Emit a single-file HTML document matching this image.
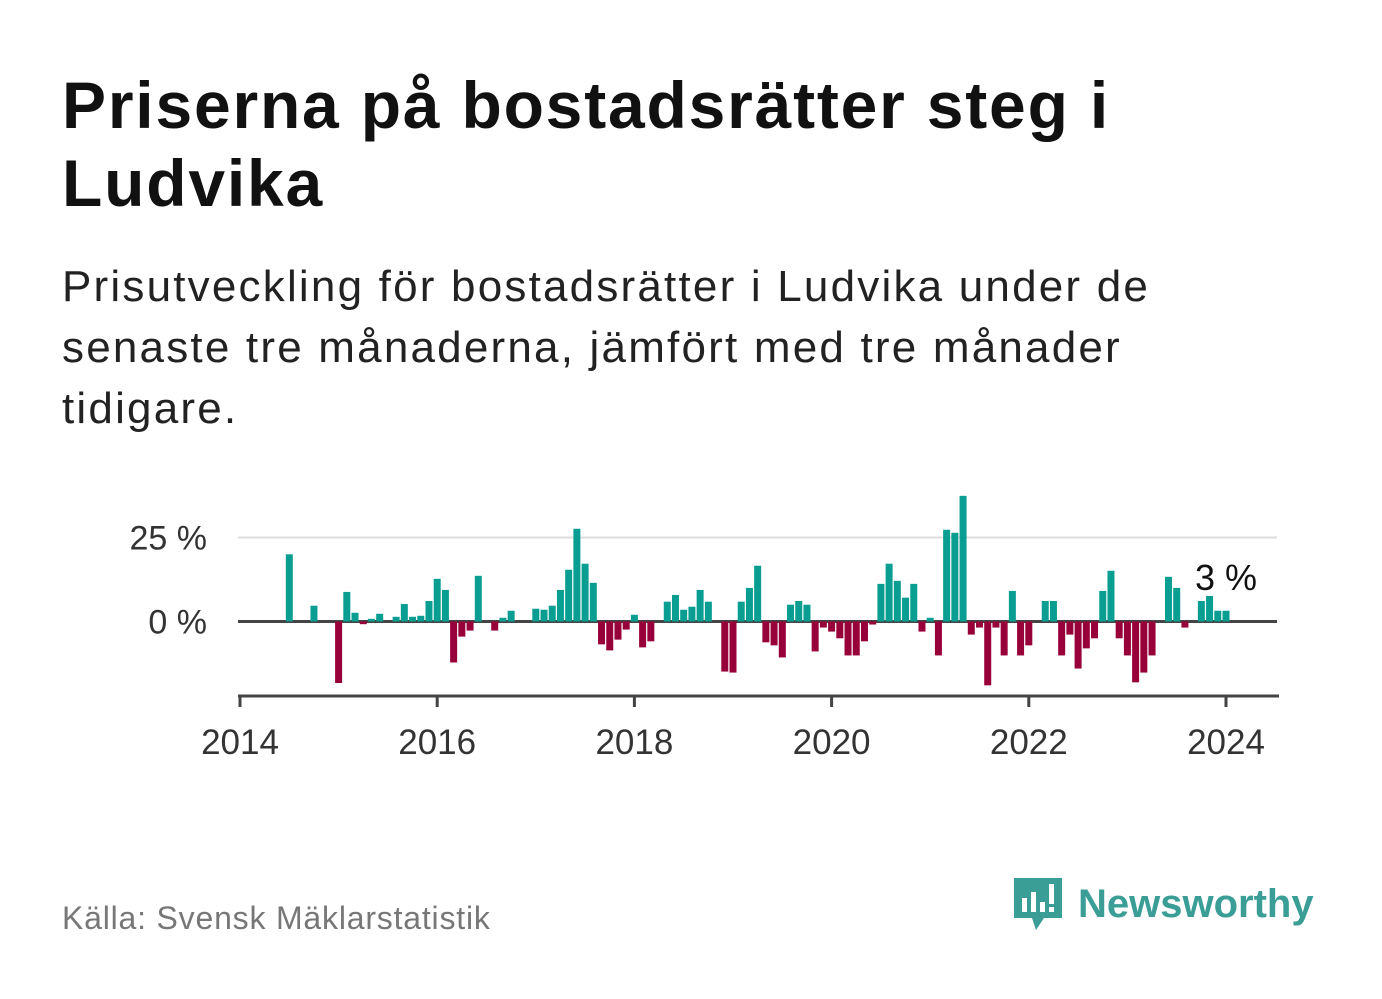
<!DOCTYPE html>
<html><head><meta charset="utf-8"><style>
body{margin:0;background:#fff;font-family:"Liberation Sans","DejaVu Sans",sans-serif;}
#wrap{position:relative;width:1382px;height:999px;overflow:hidden;}
h1{position:absolute;left:62px;top:66px;margin:0;font-size:66px;line-height:78px;font-weight:bold;color:#111;width:1300px;letter-spacing:1.8px;white-space:nowrap;}
.sub{position:absolute;left:62px;top:256px;margin:0;font-size:44px;line-height:61px;color:#222;width:1300px;letter-spacing:2.2px;white-space:nowrap;}
.src{position:absolute;left:62px;top:900px;font-size:32px;color:#777;letter-spacing:0.8px;}
.logo{position:absolute;left:1012px;top:874px;display:flex;align-items:center;}
.logo span{font-size:40px;font-weight:bold;color:#3a9e96;margin-left:14px;}
</style></head><body><div id="wrap">
<h1>Priserna på bostadsrätter steg i<br>Ludvika</h1>
<p class="sub">Prisutveckling för bostadsrätter i Ludvika under de<br>senaste tre månaderna, jämfört med tre månader<br>tidigare.</p>
<svg id="chart" width="1382" height="999" style="position:absolute;left:0;top:0"></svg>
<div class="src">Källa: Svensk Mäklarstatistik</div>
<div class="logo">
<svg width="52" height="60" viewBox="0 0 52 60"><path d="M2 4h48v40H32l-8 12-4-12H2z" fill="#3a9e96"/><rect x="10" y="24" width="5" height="14" fill="#fff"/><rect x="19" y="18" width="5" height="20" fill="#fff"/><rect x="28" y="28" width="5" height="10" fill="#fff"/><rect x="37" y="10" width="5" height="20" fill="#fff"/><rect x="37" y="33" width="5" height="5" fill="#fff"/></svg>
<span>Newsworthy</span></div>
</div>
<script>
const monthIndex=[6,9,12,13,14,15,16,17,19,20,21,22,23,24,25,26,27,28,29,31,32,33,36,37,38,39,40,41,42,43,44,45,46,47,48,49,50,52,53,54,55,56,57,59,60,61,62,63,64,65,66,67,68,69,70,71,72,73,74,75,76,77,78,79,80,81,82,83,84,85,86,87,88,89,90,91,92,93,94,95,96,98,99,100,101,102,103,104,105,106,107,108,109,110,111,113,114,115,117,118,119,120];
const values=[20,4.7,-18.3,8.8,2.6,-0.8,0.8,2.3,1.4,5.2,1.4,1.7,6.1,12.7,9.4,-12.2,-4.5,-2.7,13.6,-2.7,1.1,3.2,3.8,3.5,4.7,9.4,15.4,27.6,17.2,11.5,-6.8,-8.6,-5.4,-2.4,2.0,-7.7,-5.9,5.9,7.9,3.5,4.4,9.4,5.9,-14.9,-15.2,5.9,10.0,16.6,-6.2,-7.1,-10.7,5.0,6.1,5.0,-8.9,-1.8,-3.0,-5.0,-10.1,-10.1,-5.9,-0.9,11.2,17.2,12.1,7.1,11.2,-3.0,1.1,-10.1,27.3,26.4,37.4,-3.9,-1.8,-19.0,-1.8,-10.1,9.1,-10.1,-7.1,6.1,6.1,-10.1,-3.9,-14.0,-8.0,-5.0,9.1,15.1,-5.0,-10.1,-18.1,-15.2,-10.1,13.3,10.0,-1.8,6.1,7.6,3.2,3.2];
const yTicks=[0,25];
const xYears=[2014,2016,2018,2020,2022,2024];
const lastLabel="3 %";
const svg=document.getElementById('chart');const NS='http://www.w3.org/2000/svg';
const x=m=>240+m*(986/120);
const y=v=>621.5-v*3.36;
function mk(t,a,txt){const e=document.createElementNS(NS,t);for(const k in a)e.setAttribute(k,a[k]);if(txt!==undefined)e.textContent=txt;svg.appendChild(e);return e;}
yTicks.forEach(t=>{
 const l=mk('line',{x1:238,x2:1277,y1:y(t),y2:y(t),stroke:t===0?'#444':'#ddd','stroke-width':t===0?3:2});
 
 
 const tx=mk('text',{x:207,y:y(t)+12,'text-anchor':'end','font-size':34,fill:'#333','font-family':'Liberation Sans, sans-serif'},t+' %');
 
 
});
monthIndex.forEach((m,i)=>{
 const v=values[i];const cx=x(m);
 const r=mk('rect',{x:cx-3.5,width:7,y:Math.min(y(v),y(0)),height:Math.abs(y(v)-y(0)),fill:v>=0?'#0a9e92':'#98003a'});
 
 
});
const ax=mk('line',{x1:238,x2:1279,y1:696,y2:696,stroke:'#444','stroke-width':3});


xYears.forEach(yr=>{
 const px=x((yr-2014)*12);
 const tk=mk('line',{x1:px,x2:px,y1:696,y2:707,stroke:'#444','stroke-width':3});
 
 
 const tx=mk('text',{x:px,y:754,'text-anchor':'middle','font-size':35,fill:'#333','font-family':'Liberation Sans, sans-serif'},yr);
 
 
});
const lm=monthIndex[monthIndex.length-1];
const lt=mk('text',{x:x(lm),y:590,'text-anchor':'middle','font-size':36,fill:'#111','font-family':'Liberation Sans, sans-serif'},lastLabel);


</script></body></html>
